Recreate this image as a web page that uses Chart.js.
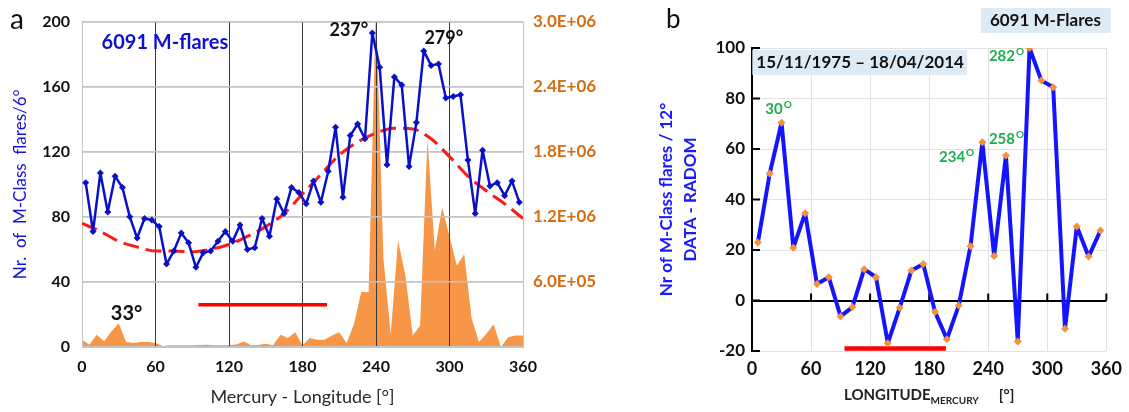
<!DOCTYPE html>
<html>
<head>
<meta charset="utf-8">
<script src="https://cdn.jsdelivr.net/npm/chart.js@4.4.1/dist/chart.umd.min.js"></script>
<style>
html,body{margin:0;padding:0;background:#fff;}
#wrapA{position:absolute;left:0;top:0;width:620px;height:412px;}
#wrapB{position:absolute;left:620px;top:0;width:509px;height:412px;}
</style>
</head>
<body>
<div id="wrapA"><canvas id="chartA" width="620" height="412"></canvas></div>
<div id="wrapB"><canvas id="chartB" width="509" height="412"></canvas></div>
<script>
// ---- panel a : M-flares per 6 deg of Mercury longitude ----
const lonA = [3,9,15,21,27,33,39,45,51,57,63,69,75,81,87,93,99,105,111,117,123,129,135,141,147,153,159,165,171,177,183,189,195,201,207,213,219,225,231,237,243,249,255,261,267,273,279,285,291,297,303,309,315,321,327,333,339,345,351,357];
const flaresA = [101,71,107,83,105,98,80,67,79,78,74,51,59,70,64,49,58,59,65,71,65,75,60,61,79,68,91,82,98,95,88,102,89,108,135,92,130,137,128,193,172,112,166,161,111,138,182,173,174,153,154,155,115,82,121,99,101,93,102,89];

// smooth red trend
const trendLon = [0,15,30,45,60,75,90,105,120,135,150,165,180,195,210,225,240,255,270,285,300,315,330,345,360];
const trendA = [76,71,65,61.5,59,59,58.5,60,63,68,74,82,94,106,118,126,131.5,134.5,134,128,117,105,96,88,79];

// orange area (right axis)
const fluxLon = [0,6,12,18,24,30,36,42,48,54,60,66,72,78,84,90,96,102,108,114,120,126,132,138,144,150,156,162,168,174,180,186,192,198,204,210,216,222,228,234,240,246,252,258,264,270,276,282,288,294,300,306,312,318,324,330,336,342,348,354,360];
const fluxA = [66000,21000,112000,54000,142000,218000,45000,36000,45000,45000,
  37000,10000,15000,15000,15000,15000,18000,21000,15000,15000,
  18000,22000,51000,15000,18000,30000,15000,112000,84000,135000,
  15000,84000,66000,66000,105000,135000,36000,210000,510000,505000,
  3180000,825000,120000,983000,660000,105000,195000,1920000,892000,1285000,
  1020000,750000,855000,270000,45000,120000,210000,0,90000,105000,
  105000];

// red band
const bandLonA = [95,200];
const bandValA = [26,26];

// text labels
const noteTextA = ['6091 M-flares','237°','279°','33°'];
const noteLonA = [16,202,279.5,23.5];
const noteValA = [187,195,190,20.7];

// ---- panel b : DATA - RANDOM per 12 deg ----
const lonB = [6,18,30,42,54,66,78,90,102,114,126,138,150,162,174,186,198,210,222,234,246,258,270,282,294,306,318,330,342,354];
const diffB = [23,50.3,70.4,20.9,34.6,6.5,9.2,-6.3,-2.6,12.4,9.2,-16.9,-2.9,11.9,14.5,-4.6,-15.3,-2,21.5,62.7,17.6,57.4,-16.2,100,87.1,84.5,-11.2,29.3,17.4,27.7];

const bandLonB = [94,197];
const bandValB = [-19,-19];

const peakTextB = ['30','234','258','282'];
const peakLonB = [13.5,190,240.7,240.7];
const peakValB = [75.6,56.6,63.8,96.6];

const boxTextB = ['15/11/1975 \u2013 18/04/2014','6091 M-Flares'];
const boxLonB = [4.4,241.7];
const boxValB = [94.3,110.9];

const FONT = "Lato, 'Open Sans', sans-serif";
const ORANGE_TXT = '#d66d12';

function sci(v){
  if(v===0) return '';
  const p = v.toExponential(1).split('e');
  const e = parseInt(p[1],10);
  return p[0]+'E'+(e<0?'-':'+')+String(Math.abs(e)).padStart(2,'0');
}
function pts(xs,ys){ return xs.map((x,i)=>({x:x,y:ys[i]})); }

// redraw grid lines on top of the orange area
const gridOverArea = {
  id:'gridOverArea',
  afterDatasetDraw(chart,args){
    if(args.index!==0) return;
    chart.scales.x.drawGrid(chart.chartArea);
    chart.scales.y.drawGrid(chart.chartArea);
  }
};

const notesA = {
  id:'notesA',
  afterDraw(chart){
    const ctx=chart.ctx, xs=chart.scales.x, ys=chart.scales.y;
    ctx.save();
    ctx.textBaseline='middle';
    ctx.textAlign='left';
    ctx.fillStyle='#111';
    ctx.font='28px '+FONT;
    ctx.fillText('a',10,20);
    noteTextA.forEach((t,i)=>{
      const px=xs.getPixelForValue(noteLonA[i]), py=ys.getPixelForValue(noteValA[i]);
      if(i===0){ ctx.fillStyle='#1010d0'; ctx.font='bold 20px '+FONT; }
      else { ctx.fillStyle='#111'; ctx.font='bold '+(i===3?20:18)+'px '+FONT; }
      ctx.fillText(t,px,py);
    });
    ctx.restore();
  }
};

new Chart(document.getElementById('chartA'),{
  type:'line',
  data:{datasets:[
    {label:'flux',data:pts(fluxLon,fluxA),yAxisID:'y2',fill:'origin',backgroundColor:'#f79646',borderWidth:0,pointRadius:0,tension:0,clip:false,order:4},
    {label:'band',data:pts(bandLonA,bandValA),borderColor:'#ff0000',borderWidth:3.5,pointRadius:0,order:3},
    {label:'trend',data:pts(trendLon,trendA),borderColor:'#ff1a1a',borderWidth:3,borderDash:[16,7],pointRadius:0,cubicInterpolationMode:'monotone',order:2},
    {label:'M-flares',data:pts(lonA,flaresA),borderColor:'#0a10c8',borderWidth:2.5,borderJoinStyle:'round',pointStyle:'rectRot',pointRadius:3.5,pointBackgroundColor:'#0a10c8',pointBorderWidth:0,order:1}
  ]},
  options:{
    responsive:false,animation:false,devicePixelRatio:1,
    layout:{padding:{top:16,left:0,right:0,bottom:0}},
    plugins:{legend:{display:false},tooltip:{enabled:false}},
    scales:{
      x:{type:'linear',min:0,max:360,
        ticks:{stepSize:60,color:'#111',font:{family:FONT,size:16,weight:'bold'},padding:10,maxRotation:0},
        grid:{drawTicks:false,lineWidth:1,color:c=>(c.tick&&(c.tick.value===0||c.tick.value===360))?'#c4c4c4':'#383838'},
        border:{color:'#c4c4c4'},
        title:{display:true,text:'Mercury - Longitude [°]',color:'#2a2a2a',font:{family:FONT,size:18},padding:{top:0,bottom:4}},
        afterFit(s){s.height=65;}},
      y:{position:'left',min:0,max:200,
        ticks:{stepSize:40,color:'#111',font:{family:FONT,size:16,weight:'bold'},padding:12},
        grid:{drawTicks:false,color:'#c4c4c4',lineWidth:1.5},
        border:{color:'#b0b0b0'},
        title:{display:true,text:'Nr.  of  M-Class  flares/6°',color:'#1414d8',font:{family:FONT,size:17},padding:{top:10}},
        afterFit(s){s.width=82;}},
      y2:{position:'right',min:0,max:3000000,
        ticks:{stepSize:600000,callback:sci,crossAlign:'center',color:ORANGE_TXT,font:{family:FONT,size:17,weight:'bold'},padding:10},
        grid:{display:false,drawTicks:false},border:{display:false},
        afterFit(s){s.width=97;}}
    }
  },
  plugins:[gridOverArea,notesA]
});

// panel b plugins
const axisTicksB = {
  id:'axisTicksB',
  beforeDatasetsDraw(chart){
    const ctx=chart.ctx, xs=chart.scales.x, ys=chart.scales.y, a=chart.chartArea;
    ctx.save();
    ctx.strokeStyle='#000';ctx.lineWidth=2;
    ys.ticks.forEach(t=>{
      const py=ys.getPixelForValue(t.value);
      ctx.beginPath();ctx.moveTo(a.left,py);ctx.lineTo(a.left+8,py);ctx.stroke();
    });
    const y0=ys.getPixelForValue(0);
    xs.ticks.forEach(t=>{
      if(t.value===0) return;
      const px=xs.getPixelForValue(t.value);
      ctx.beginPath();ctx.moveTo(px,y0);ctx.lineTo(px,y0-7);ctx.stroke();
    });
    ctx.restore();
  }
};

const notesB = {
  id:'notesB',
  afterDraw(chart){
    const ctx=chart.ctx, xs=chart.scales.x, ys=chart.scales.y, a=chart.chartArea;
    ctx.save();
    ctx.textBaseline='middle';ctx.textAlign='left';
    ctx.fillStyle='#111';ctx.font='26px '+FONT;
    ctx.fillText('b',46,20);
    // boxed labels
    ctx.font='bold 17px '+FONT;
    boxTextB.forEach((t,i)=>{
      const px=xs.getPixelForValue(boxLonB[i]), py=ys.getPixelForValue(boxValB[i]);
      const w=ctx.measureText(t).width;
      const padL=i===0?4:9, padR=i===0?3:10;
      ctx.fillStyle='#ddebf7';
      ctx.fillRect(px-padL,py-12.5,w+padL+padR,25);
      ctx.fillStyle='#111';
      ctx.fillText(t,px,py);
    });
    // green peak labels
    peakTextB.forEach((t,i)=>{
      const px=xs.getPixelForValue(peakLonB[i]), py=ys.getPixelForValue(peakValB[i]);
      ctx.fillStyle='#1fae4b';
      ctx.font='bold 15px '+FONT;
      ctx.fillText(t,px,py);
      const w=ctx.measureText(t).width;
      ctx.font='bold 10px '+FONT;
      ctx.fillText('O',px+w+1,py-5);
    });
    // x-axis title with subscript
    const cx=(a.left+a.right)/2;
    ctx.fillStyle='#222';
    ctx.textBaseline='alphabetic';
    ctx.font='bold 15px '+FONT;
    const t1='LONGITUDE', t3='[°]';
    const w1=ctx.measureText(t1).width;
    ctx.font='bold 10px '+FONT;
    const w2=ctx.measureText('MERCURY').width;
    ctx.font='bold 15px '+FONT;
    const w3=ctx.measureText(t3).width;
    const gap=20;
    let x0=cx-(w1+w2+gap+w3)/2;
    ctx.fillText(t1,x0,400);
    ctx.font='bold 10px '+FONT;
    ctx.fillText('MERCURY',x0+w1,404);
    ctx.font='bold 15px '+FONT;
    ctx.fillText(t3,x0+w1+w2+gap,400);
    ctx.restore();
  }
};

new Chart(document.getElementById('chartB'),{
  type:'line',
  data:{datasets:[
    {label:'diff',data:pts(lonB,diffB),borderColor:'#1414ff',borderWidth:4,borderJoinStyle:'round',pointStyle:'rectRot',pointRadius:4,pointBackgroundColor:'#f5913c',pointBorderWidth:0,order:1},
    {label:'band',data:pts(bandLonB,bandValB),borderColor:'#ff0000',borderWidth:4.5,pointRadius:0,order:2}
  ]},
  options:{
    responsive:false,animation:false,devicePixelRatio:1,
    layout:{padding:{top:48,right:20,left:0,bottom:0}},
    plugins:{legend:{display:false},tooltip:{enabled:false}},
    scales:{
      x:{type:'linear',min:0,max:360,
        ticks:{stepSize:60,color:'#111',font:{family:FONT,size:18,weight:'bold'},padding:7,maxRotation:0},
        grid:{drawTicks:false,color:'#e2e2e2',lineWidth:1},
        border:{display:false},
        afterFit(s){s.height=61;}},
      y:{min:-20,max:100,
        ticks:{stepSize:20,color:'#111',font:{family:FONT,size:17,weight:'bold'},padding:7},
        grid:{drawTicks:false,color:c=>(c.tick&&c.tick.value===0)?'#000':'#e2e2e2',lineWidth:c=>(c.tick&&c.tick.value===0)?2:1},
        border:{color:'#000',width:2},
        title:{display:true,text:['Nr of M-Class flares / 12°','DATA - RADOM'],color:'#1a1aff',font:{family:FONT,size:17,weight:'bold',lineHeight:1.4},padding:{top:35}},
        afterFit(s){s.width=132;}}
    }
  },
  plugins:[axisTicksB,notesB]
});
</script>
</body>
</html>
